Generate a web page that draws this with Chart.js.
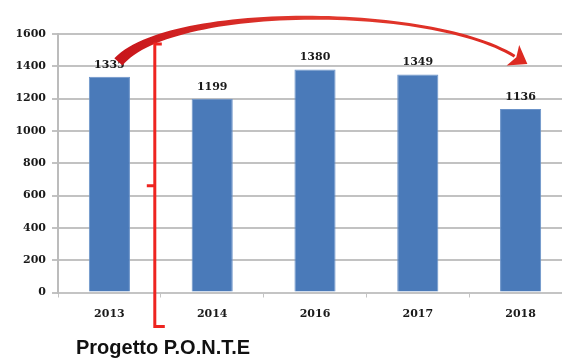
<!DOCTYPE html>
<html>
<head>
<meta charset="utf-8">
<script src="https://cdn.jsdelivr.net/npm/chart.js@4.4.1/dist/chart.umd.min.js"></script>
<style>
  html, body { margin: 0; padding: 0; overflow: hidden; background: #fff; }
  #wrap { width: 572px; height: 359px; }
</style>
</head>
<body>
<div id="wrap"><canvas id="chart_iscritti" width="572" height="359"></canvas></div>
<script>
const anni = ['2013', '2014', '2016', '2017', '2018'];
const iscritti = [1335, 1199, 1380, 1349, 1136];
const yMax = 1600;
const yStep = 200;
const nota = 'Progetto P.O.N.T.E';

const serif = 'bold 11px "DejaVu Serif", serif';

// numbers over the bars
const valueLabels = {
  id: 'valueLabels',
  afterDatasetsDraw(chart) {
    const ctx = chart.ctx;
    const meta = chart.getDatasetMeta(0);
    ctx.save();
    ctx.font = serif;
    ctx.fillStyle = '#1a1a1a';
    ctx.textAlign = 'center';
    ctx.textBaseline = 'middle';
    meta.data.forEach((bar, i) => {
      ctx.fillText(String(iscritti[i]), bar.x, bar.y - 12);
    });
    ctx.restore();
  }
};

// red curved arrow, bracket and caption
const extras = {
  id: 'extras',
  afterDraw(chart) {
    const ctx = chart.ctx;
    const x = chart.scales.x;
    const y = chart.scales.y;
    const area = chart.chartArea;
    const meta = chart.getDatasetMeta(0);
    const first = meta.data[0];
    const last = meta.data[meta.data.length - 1];

    // tapered arc from the first bar to the last one
    const p0 = { x: first.x + 9, y: first.y - 15 };
    const p3 = { x: last.x - 6, y: y.getPixelForValue(1580) + 19 };
    const p1 = { x: p0.x + 52, y: area.top - 30 };
    const p2 = { x: p3.x - 85, y: area.top - 30 };
    const bez = (t, a, b, c, d) => {
      const u = 1 - t;
      return u*u*u*a + 3*u*u*t*b + 3*u*t*t*c + t*t*t*d;
    };
    const dbez = (t, a, b, c, d) => {
      const u = 1 - t;
      return 3*u*u*(b - a) + 6*u*t*(c - b) + 3*t*t*(d - c);
    };
    const top = [], bot = [];
    const N = 60;
    for (let i = 0; i <= N; i++) {
      const t = i / N;
      const px = bez(t, p0.x, p1.x, p2.x, p3.x);
      const py = bez(t, p0.y, p1.y, p2.y, p3.y);
      const dx = dbez(t, p0.x, p1.x, p2.x, p3.x);
      const dy = dbez(t, p0.y, p1.y, p2.y, p3.y);
      const len = Math.hypot(dx, dy);
      const nx = -dy / len, ny = dx / len;
      const w = (3 + 8 * Math.pow(1 - t, 3)) / 2;
      top.push([px + nx * w, py + ny * w]);
      bot.push([px - nx * w, py - ny * w]);
    }
    const grad = ctx.createLinearGradient(p0.x, 0, p3.x, 0);
    grad.addColorStop(0, '#c8161b');
    grad.addColorStop(0.5, '#e23a2e');
    grad.addColorStop(1, '#dd2a22');
    ctx.save();
    ctx.fillStyle = grad;
    ctx.beginPath();
    ctx.moveTo(top[0][0], top[0][1]);
    top.forEach(p => ctx.lineTo(p[0], p[1]));
    for (let i = bot.length - 1; i >= 0; i--) ctx.lineTo(bot[i][0], bot[i][1]);
    ctx.closePath();
    ctx.fill();

    // arrow head
    const ex = dbez(1, p0.x, p1.x, p2.x, p3.x);
    const ey = dbez(1, p0.y, p1.y, p2.y, p3.y);
    const el = Math.hypot(ex, ey);
    const ux = ex / el, uy = ey / el;
    const hx = -uy, hy = ux;
    const tip = { x: p3.x + ux * 15, y: p3.y + uy * 15 };
    ctx.fillStyle = '#dd2a22';
    ctx.beginPath();
    ctx.moveTo(tip.x, tip.y);
    ctx.lineTo(p3.x - ux * 2 + hx * 12, p3.y - uy * 2 + hy * 12);
    ctx.lineTo(p3.x + ux * 2, p3.y + uy * 2);
    ctx.lineTo(p3.x - ux * 2 - hx * 12, p3.y - uy * 2 - hy * 12);
    ctx.closePath();
    ctx.fill();

    // bracket between 2013 and 2014
    const bx = (x.getPixelForValue(0) + x.getPixelForValue(1)) / 2 - 6;
    const bTop = y.getPixelForValue(1600) + 10;
    const bBot = area.bottom + 34;
    const bMid = y.getPixelForValue(660);
    ctx.strokeStyle = '#ee2420';
    ctx.lineWidth = 3;
    ctx.lineJoin = 'miter';
    ctx.beginPath();
    ctx.moveTo(bx + 7, bTop);
    ctx.lineTo(bx, bTop);
    ctx.lineTo(bx, bBot);
    ctx.lineTo(bx + 10, bBot);
    ctx.moveTo(bx, bMid);
    ctx.lineTo(bx - 8, bMid);
    ctx.stroke();

    // caption under the bracket
    ctx.font = 'bold 20px "Liberation Sans", Arial, sans-serif';
    ctx.fillStyle = '#111';
    ctx.textAlign = 'left';
    ctx.textBaseline = 'alphabetic';
    ctx.fillText(nota, 76, area.bottom + 61);
    ctx.restore();
  }
};

new Chart(document.getElementById('chart_iscritti'), {
  type: 'bar',
  data: {
    labels: anni,
    datasets: [{
      data: iscritti,
      backgroundColor: '#4a7ab9',
      borderColor: '#6b93c9',
      borderWidth: 1,
      barPercentage: 0.8,
      categoryPercentage: 0.5
    }]
  },
  options: {
    responsive: false,
    animation: false,
    devicePixelRatio: 1,
    layout: { padding: { top: 34, left: 0, right: 0, bottom: 0 } },
    plugins: {
      legend: { display: false },
      tooltip: { enabled: false }
    },
    scales: {
      x: {
        grid: {
          drawOnChartArea: false,
          drawTicks: true,
          tickLength: 5,
          color: '#c4c4c4',
          lineWidth: 1
        },
        border: { color: '#c4c4c4', width: 2 },
        ticks: {
          font: { family: '"DejaVu Serif", serif', size: 11, weight: 'bold' },
          color: '#1a1a1a',
          padding: 10
        },
        afterFit(scale) { scale.height = 66.5; }
      },
      y: {
        min: 0,
        max: yMax,
        grid: {
          display: true,
          drawOnChartArea: true,
          color: 'rgba(120,120,120,0.45)',
          lineWidth: 2,
          tickLength: 6
        },
        border: { color: '#bcbcbc', width: 2 },
        ticks: {
          stepSize: yStep,
          callback: v => String(v),
          font: { family: '"DejaVu Serif", serif', size: 11, weight: 'bold' },
          color: '#1a1a1a',
          padding: 6
        },
        afterFit(scale) { scale.width = 58; }
      }
    }
  },
  plugins: [valueLabels, extras]
});
</script>
</body>
</html>
